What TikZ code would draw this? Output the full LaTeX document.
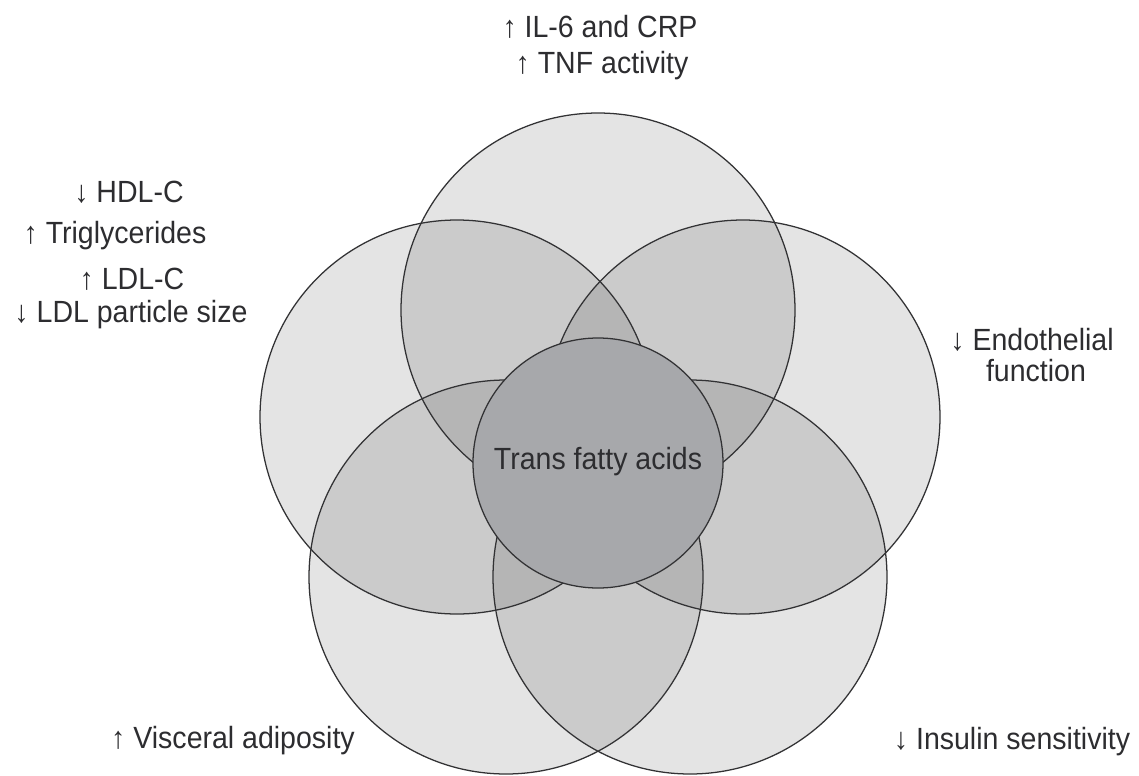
\documentclass[tikz,border=0pt]{standalone}
\usepackage{fontspec}
\setmainfont[FakeStretch=0.93]{Liberation Sans}
\definecolor{lineC}{RGB}{50,50,52}
\definecolor{txtC}{RGB}{45,45,48}
\definecolor{coreC}{RGB}{167,168,171}
\begin{document}
\begin{tikzpicture}[x=0.75pt,y=-0.75pt,
  vennfill/.style={fill=black,fill opacity=0.105},
  vennline/.style={draw=lineC,line width=0.95pt},
  lab/.style={text=txtC,font=\fontsize{23}{26}\selectfont,inner sep=0pt,align=center}]
\useasboundingbox (0,0) rectangle (1139,775);
\fill[white] (0,0) rectangle (1139,775);
% centres
\coordinate (ctop) at (598,310);
\coordinate (cul) at (457,417);
\coordinate (cur) at (743,417);
\coordinate (cll) at (506,577);
\coordinate (clr) at (690,577);
\coordinate (ccore) at (598,463);
% fills
\foreach \c in {ctop,cul,cur,cll,clr}
  \fill[vennfill] (\c) circle[radius=197];
% outlines
\foreach \c in {ctop,cul,cur,cll,clr}
  \draw[vennline] (\c) circle[radius=197];
% core
\draw[vennline,fill=coreC] (ccore) circle[radius=125];
\node[lab] (core) at (598,462) {Trans fatty acids};
% labels
\node[lab] (il6) at (600,27) {↑ IL-6 and CRP};
\node[lab] (tnf) at (602,66) {↑ TNF activity};
\node[lab] (hdl) at (129,192) {↓ HDL-C};
\node[lab] (tg) at (115,236) {↑ Triglycerides};
\node[lab] (ldl) at (132,279) {↑ LDL-C};
\node[lab] (ldlp) at (131,315) {↓ LDL particle size};
\node[lab] (endo) at (1032,340) {↓ Endothelial};
\node[lab] (func) at (1036,371) {function};
\node[lab] (visc) at (233,741) {↑ Visceral adiposity};
\node[lab] (ins) at (1012,742) {↓ Insulin sensitivity};
\end{tikzpicture}
\end{document}
